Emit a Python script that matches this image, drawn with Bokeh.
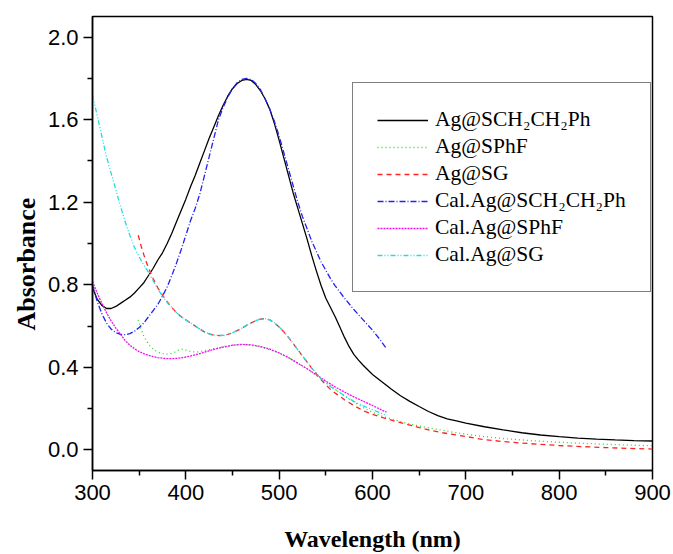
from bokeh.plotting import figure
from bokeh.models import Legend, LegendItem, FixedTicker, PrintfTickFormatter, Range1d, Title
from bokeh.embed import file_html
from bokeh.resources import INLINE

# Ag@SCH2CH2Ph
wl_a = [300, 305, 310, 315, 320, 325, 330, 335, 340, 345, 350, 355, 360, 365, 370, 375, 380, 385, 390, 395,
        400, 405, 410, 415, 420, 425, 430, 435, 440, 445, 450, 455, 460, 465, 470, 475, 480, 485, 490, 495,
        500, 505, 510, 515, 520, 525, 530, 535, 540, 545, 550, 555, 560, 565, 570, 575, 580, 585, 590, 600,
        610, 620, 630, 640, 650, 660, 670, 680, 690, 700, 720, 740, 760, 780, 800, 820, 840, 860, 880, 900]
ab_a = [0.785, 0.73, 0.70, 0.685, 0.685, 0.695, 0.71, 0.725, 0.74, 0.76, 0.785, 0.81, 0.845, 0.88, 0.92, 0.955, 1.00, 1.05, 1.105, 1.16,
        1.215, 1.275, 1.33, 1.39, 1.45, 1.51, 1.565, 1.62, 1.67, 1.715, 1.75, 1.775, 1.79, 1.795, 1.79, 1.77, 1.74, 1.70, 1.65, 1.58,
        1.50, 1.415, 1.33, 1.245, 1.17, 1.095, 1.02, 0.94, 0.865, 0.795, 0.735, 0.69, 0.645, 0.595, 0.545, 0.50, 0.463, 0.435, 0.41, 0.365,
        0.33, 0.295, 0.262, 0.235, 0.21, 0.186, 0.166, 0.15, 0.14, 0.13, 0.112, 0.097, 0.083, 0.072, 0.064, 0.057, 0.052, 0.048, 0.045, 0.043]
# Ag@SPhF
wl_b = [349, 352, 355, 358, 362, 367, 372, 378, 383, 388, 393, 397, 401, 405, 410, 415, 420, 430, 440, 450,
        460, 470, 480, 490, 500, 510, 520, 530, 540, 550, 560, 570, 580, 590, 600, 610, 620, 640, 662, 690,
        716, 740, 769, 800, 823, 850, 875, 900]
ab_b = [0.63, 0.585, 0.55, 0.527, 0.50, 0.482, 0.47, 0.463, 0.465, 0.473, 0.485, 0.488, 0.482, 0.477, 0.474, 0.476, 0.48, 0.49, 0.50, 0.507,
        0.511, 0.507, 0.498, 0.485, 0.47, 0.447, 0.42, 0.392, 0.36, 0.325, 0.295, 0.262, 0.232, 0.205, 0.182, 0.164, 0.15, 0.125, 0.105, 0.083,
        0.066, 0.055, 0.045, 0.037, 0.032, 0.027, 0.023, 0.02]
# Ag@SG
wl_c = [349, 352, 355, 360, 365, 370, 375, 380, 385, 390, 395, 400, 405, 410, 415, 420, 425, 430, 435, 440,
        445, 450, 455, 460, 465, 470, 475, 480, 485, 490, 495, 500, 505, 510, 515, 520, 525, 530, 535, 540,
        545, 550, 555, 560, 565, 570, 580, 590, 600, 612, 625, 640, 650, 662, 675, 690, 700, 716, 740, 769,
        800, 823, 850, 875, 900]
ab_c = [1.04, 0.99, 0.945, 0.88, 0.83, 0.785, 0.75, 0.718, 0.69, 0.665, 0.645, 0.63, 0.615, 0.60, 0.585, 0.572, 0.562, 0.556, 0.554, 0.555,
        0.56, 0.567, 0.578, 0.59, 0.603, 0.615, 0.626, 0.634, 0.636, 0.63, 0.615, 0.595, 0.572, 0.545, 0.515, 0.485, 0.455, 0.425, 0.395, 0.368,
        0.34, 0.315, 0.293, 0.275, 0.26, 0.243, 0.215, 0.19, 0.172, 0.155, 0.138, 0.12, 0.108, 0.095, 0.083, 0.072, 0.065, 0.052, 0.04, 0.03,
        0.021, 0.016, 0.011, 0.007, 0.004]
# Cal.Ag@SCH2CH2Ph
wl_d = [300, 305, 310, 315, 320, 325, 330, 335, 340, 345, 350, 355, 360, 365, 370, 375, 380, 385, 390, 395,
        400, 405, 410, 415, 420, 425, 430, 435, 440, 445, 450, 455, 460, 465, 470, 475, 480, 485, 490, 495,
        500, 505, 510, 515, 520, 525, 530, 535, 540, 545, 550, 555, 560, 570, 580, 590, 600, 608, 615]
ab_d = [0.80, 0.72, 0.66, 0.615, 0.585, 0.568, 0.56, 0.558, 0.563, 0.575, 0.593, 0.615, 0.645, 0.675, 0.705, 0.745, 0.79, 0.845, 0.905, 0.97,
        1.04, 1.11, 1.17, 1.24, 1.33, 1.42, 1.51, 1.60, 1.66, 1.71, 1.75, 1.78, 1.795, 1.80, 1.795, 1.775, 1.745, 1.70, 1.65, 1.59,
        1.52, 1.44, 1.36, 1.28, 1.20, 1.13, 1.07, 1.01, 0.96, 0.91, 0.87, 0.83, 0.795, 0.735, 0.68, 0.63, 0.58, 0.535, 0.49]
# Cal.Ag@SPhF
wl_e = [300, 305, 310, 315, 320, 325, 330, 335, 340, 345, 350, 355, 360, 365, 370, 375, 380, 385, 390, 395,
        400, 410, 420, 430, 440, 450, 460, 470, 480, 490, 500, 510, 520, 530, 540, 550, 560, 570, 580, 590,
        600, 608, 615]
ab_e = [0.816, 0.76, 0.71, 0.665, 0.625, 0.59, 0.56, 0.53, 0.507, 0.49, 0.476, 0.466, 0.458, 0.452, 0.447, 0.444, 0.442, 0.442, 0.443, 0.446,
        0.45, 0.46, 0.473, 0.487, 0.498, 0.507, 0.511, 0.509, 0.501, 0.488, 0.47, 0.447, 0.42, 0.393, 0.363, 0.333, 0.305, 0.28, 0.257, 0.236,
        0.215, 0.197, 0.183]
# Cal.Ag@SG
wl_f = [300, 305, 310, 315, 320, 325, 330, 335, 340, 345, 350, 355, 360, 365, 370, 375, 380, 385, 390, 395,
        400, 405, 410, 415, 420, 425, 430, 435, 440, 445, 450, 455, 460, 465, 470, 475, 480, 485, 490, 495,
        500, 505, 510, 515, 520, 525, 530, 535, 540, 545, 550, 555, 560, 570, 580, 590, 600, 608, 615]
ab_f = [1.72, 1.62, 1.52, 1.42, 1.34, 1.26, 1.18, 1.105, 1.04, 0.98, 0.935, 0.895, 0.86, 0.82, 0.78, 0.745, 0.715, 0.69, 0.665, 0.645,
        0.63, 0.615, 0.60, 0.585, 0.572, 0.562, 0.556, 0.554, 0.555, 0.56, 0.567, 0.578, 0.59, 0.603, 0.615, 0.626, 0.634, 0.636, 0.63, 0.615,
        0.595, 0.572, 0.545, 0.515, 0.485, 0.455, 0.425, 0.395, 0.37, 0.345, 0.325, 0.307, 0.292, 0.262, 0.235, 0.213, 0.195, 0.18, 0.166]

labels = ["Ag@SCH\u2082CH\u2082Ph", "Ag@SPhF", "Ag@SG", "Cal.Ag@SCH\u2082CH\u2082Ph", "Cal.Ag@SPhF", "Cal.Ag@SG"]
x_ticks = [300, 400, 500, 600, 700, 800, 900]
x_minor = [350, 450, 550, 650, 750, 850]
y_ticks = [0.0, 0.4, 0.8, 1.2, 1.6, 2.0]
y_minor = [0.2, 0.6, 1.0, 1.4, 1.8]
x_title = "Wavelength (nm)"
y_title = "Absorbance"

p = figure(width=673, height=554, output_backend="svg", toolbar_location=None,
           x_range=Range1d(300, 900), y_range=Range1d(-0.1, 2.1),
           min_border_left=92, min_border_right=21, min_border_top=16, min_border_bottom=83)
p.grid.visible = False
p.outline_line_color = "black"
p.outline_line_width = 1.5
p.background_fill_color = "white"
p.border_fill_color = "white"

serif = "Liberation Serif"
styles = [
    dict(color="black", line_dash="solid"),
    dict(color="#22dd22", line_dash="1 3"),
    dict(color="#ff2222", line_dash="5 4"),
    dict(color="#2222ee", line_dash="6 2 1 2"),
    dict(color="#ee11ee", line_dash="2 1"),
    dict(color="#22dddd", line_dash="5 2 1 2 1 2"),
]
data = [(wl_a, ab_a), (wl_b, ab_b), (wl_c, ab_c), (wl_d, ab_d), (wl_e, ab_e), (wl_f, ab_f)]
renderers = []
for (xs, ys), st in zip(data, styles):
    r = p.line(xs, ys, line_color=st["color"], line_dash=st["line_dash"], line_width=1.3)
    renderers.append(r)

legend = Legend(items=[LegendItem(label=l, renderers=[r]) for l, r in zip(labels, renderers)],
                location=(260, 178), padding=24, spacing=2, glyph_width=51, label_standoff=7,
                label_text_font=serif, label_text_font_size="21.5px", label_text_color="black",
                border_line_color="black", border_line_width=1.2, background_fill_alpha=1.0)
p.add_layout(legend, "center")

for ax in (p.xaxis[0], p.yaxis[0]):
    ax.axis_line_color = "black"
    ax.axis_line_width = 1.5
    ax.major_tick_line_color = "black"
    ax.minor_tick_line_color = "black"
    ax.major_tick_line_width = 1.5
    ax.minor_tick_line_width = 1.5
    ax.major_tick_in = 0
    ax.major_tick_out = 9
    ax.minor_tick_in = 0
    ax.minor_tick_out = 5
    ax.major_label_text_font = "Liberation Sans"
    ax.major_label_text_font_size = "22px"
    ax.major_label_text_color = "black"

p.xaxis[0].ticker = FixedTicker(ticks=x_ticks, minor_ticks=x_minor)
p.yaxis[0].ticker = FixedTicker(ticks=y_ticks, minor_ticks=y_minor)
p.yaxis[0].formatter = PrintfTickFormatter(format="%.1f")
p.xaxis[0].major_label_standoff = 5
p.yaxis[0].major_label_standoff = 5

xa = p.xaxis[0]
xa.axis_label = x_title
xa.axis_label_text_font = serif
xa.axis_label_text_font_style = "bold"
xa.axis_label_text_font_size = "24px"
xa.axis_label_text_color = "black"
xa.axis_label_standoff = 23

yt = Title(text=y_title, align="left", offset=140, standoff=8,
           text_font=serif, text_font_style="bold", text_font_size="26px", text_color="black")
p.add_layout(yt, "left")

open("out.html", "w").write(file_html(p, INLINE))
